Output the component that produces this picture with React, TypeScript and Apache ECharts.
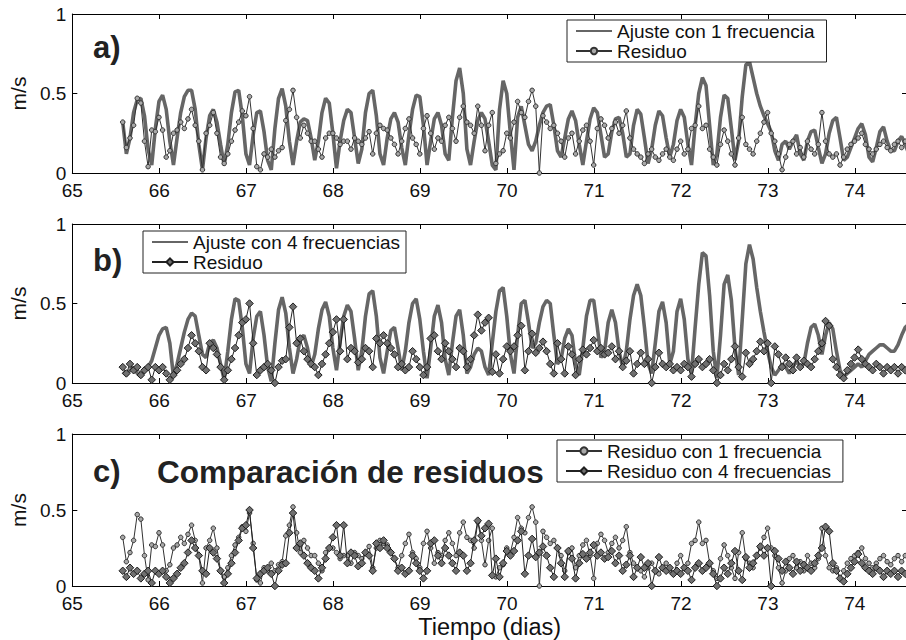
import React, { useEffect, useRef } from 'react';
import * as echarts from 'echarts';

// Hourly samples starting at day 65.58
const T_START = 65.58;
const T_STEP = 1 / 24;
const X_MIN = 65;
const X_MAX = 74.6;

// a) Ajuste con 1 frecuencia
const fit1 = [
  0.32, 0.12, 0.22, 0.38, 0.46, 0.47, 0.36, 0.15, 0.05, 0.28, 0.45, 0.49, 0.40, 0.20, 0.05, 0.22, 0.38, 0.48, 0.52, 0.52, 0.40, 0.18, 0.02, 0.22,
  0.36, 0.40, 0.32, 0.18, 0.05, 0.18, 0.38, 0.51, 0.52, 0.36, 0.12, 0.05, 0.24, 0.38, 0.39, 0.26, 0.08, 0.02, 0.28, 0.47, 0.53, 0.42, 0.20, 0.05,
  0.20, 0.32, 0.34, 0.33, 0.22, 0.08, 0.20, 0.38, 0.47, 0.44, 0.25, 0.03, 0.20, 0.33, 0.40, 0.38, 0.22, 0.06, 0.15, 0.38, 0.50, 0.52, 0.36, 0.12,
  0.05, 0.22, 0.34, 0.38, 0.32, 0.16, 0.05, 0.24, 0.40, 0.49, 0.48, 0.30, 0.05, 0.20, 0.34, 0.38, 0.30, 0.12, 0.08, 0.35, 0.58, 0.66, 0.50, 0.15,
  0.05, 0.20, 0.33, 0.38, 0.34, 0.20, 0.05, 0.02, 0.40, 0.58, 0.50, 0.25, 0.02, 0.35, 0.42, 0.30, 0.18, 0.14, 0.20, 0.30, 0.38, 0.42, 0.43, 0.30,
  0.14, 0.10, 0.22, 0.34, 0.39, 0.33, 0.18, 0.05, 0.20, 0.34, 0.41, 0.38, 0.24, 0.10, 0.12, 0.26, 0.34, 0.35, 0.25, 0.10, 0.12, 0.30, 0.40, 0.37,
  0.22, 0.06, 0.15, 0.30, 0.39, 0.36, 0.22, 0.10, 0.18, 0.33, 0.40, 0.35, 0.18, 0.05, 0.30, 0.50, 0.60, 0.55, 0.30, 0.05, 0.12, 0.35, 0.49, 0.47,
  0.28, 0.08, 0.20, 0.48, 0.68, 0.70, 0.60, 0.50, 0.42, 0.36, 0.31, 0.26, 0.14, 0.08, 0.18, 0.20, 0.15, 0.20, 0.24, 0.12, 0.08, 0.20, 0.26, 0.27,
  0.16, 0.06, 0.12, 0.25, 0.33, 0.35, 0.22, 0.08, 0.10, 0.16, 0.22, 0.28, 0.31, 0.24, 0.10, 0.07, 0.16, 0.26, 0.29, 0.20, 0.14, 0.14, 0.20, 0.23, 0.18, 0.12,
];

// b) Ajuste con 4 frecuencias
const fit4 = [
  0.07, 0.05, 0.08, 0.10, 0.06, 0.04, 0.08, 0.10, 0.14, 0.22, 0.30, 0.34, 0.35, 0.25, 0.04, 0.12, 0.22, 0.32, 0.40, 0.44, 0.42, 0.30, 0.18, 0.16,
  0.25, 0.27, 0.22, 0.12, 0.02, 0.20, 0.40, 0.53, 0.52, 0.35, 0.12, 0.06, 0.28, 0.42, 0.45, 0.30, 0.10, 0.01, 0.25, 0.46, 0.54, 0.44, 0.22, 0.06,
  0.15, 0.28, 0.30, 0.22, 0.10, 0.18, 0.34, 0.46, 0.51, 0.42, 0.22, 0.08, 0.26, 0.42, 0.49, 0.45, 0.28, 0.08, 0.20, 0.42, 0.56, 0.58, 0.42, 0.16,
  0.06, 0.20, 0.33, 0.35, 0.22, 0.08, 0.20, 0.38, 0.50, 0.53, 0.40, 0.20, 0.03, 0.22, 0.42, 0.49, 0.38, 0.15, 0.05, 0.25, 0.42, 0.46, 0.30, 0.06,
  0.10, 0.18, 0.22, 0.20, 0.10, 0.05, 0.25, 0.45, 0.58, 0.60, 0.42, 0.18, 0.06, 0.30, 0.50, 0.52, 0.38, 0.22, 0.25, 0.38, 0.48, 0.52, 0.50, 0.30,
  0.12, 0.15, 0.28, 0.34, 0.30, 0.12, 0.05, 0.22, 0.42, 0.52, 0.52, 0.35, 0.16, 0.20, 0.38, 0.46, 0.38, 0.20, 0.10, 0.20, 0.40, 0.55, 0.62, 0.55,
  0.35, 0.12, 0.06, 0.25, 0.45, 0.51, 0.38, 0.12, 0.20, 0.45, 0.53, 0.40, 0.15, 0.06, 0.35, 0.62, 0.82, 0.80, 0.55, 0.20, 0.03, 0.30, 0.62, 0.68,
  0.52, 0.22, 0.05, 0.40, 0.75, 0.87, 0.78, 0.60, 0.45, 0.32, 0.20, 0.10, 0.05, 0.08, 0.12, 0.10, 0.06, 0.10, 0.14, 0.10, 0.12, 0.25, 0.35, 0.37,
  0.30, 0.18, 0.30, 0.38, 0.34, 0.20, 0.08, 0.04, 0.06, 0.08, 0.10, 0.12, 0.10, 0.14, 0.18, 0.20, 0.22, 0.24, 0.24, 0.22, 0.20, 0.20, 0.24, 0.30, 0.35, 0.37,
];

// Residuo con 1 frecuencia
const res1 = [
  0.32, 0.16, 0.22, 0.30, 0.47, 0.44, 0.20, 0.04, 0.27, 0.26, 0.35, 0.27, 0.10, 0.14, 0.25, 0.27, 0.32, 0.28, 0.34, 0.40, 0.30, 0.20, 0.02, 0.25,
  0.30, 0.38, 0.25, 0.10, 0.06, 0.12, 0.20, 0.27, 0.32, 0.39, 0.36, 0.48, 0.28, 0.04, 0.02, 0.12, 0.10, 0.15, 0.10, 0.14, 0.16, 0.33, 0.40, 0.52,
  0.35, 0.22, 0.30, 0.25, 0.20, 0.20, 0.15, 0.10, 0.22, 0.25, 0.25, 0.22, 0.18, 0.20, 0.20, 0.15, 0.22, 0.20, 0.18, 0.22, 0.26, 0.12, 0.25, 0.30,
  0.28, 0.27, 0.22, 0.18, 0.12, 0.20, 0.28, 0.34, 0.22, 0.18, 0.12, 0.28, 0.36, 0.25, 0.15, 0.22, 0.20, 0.30, 0.35, 0.28, 0.20, 0.35, 0.42, 0.32,
  0.30, 0.25, 0.42, 0.30, 0.14, 0.30, 0.38, 0.06, 0.12, 0.14, 0.25, 0.22, 0.32, 0.45, 0.38, 0.35, 0.45, 0.52, 0.42, 0.00, 0.36, 0.32, 0.28, 0.30,
  0.25, 0.20, 0.10, 0.22, 0.25, 0.12, 0.20, 0.27, 0.30, 0.20, 0.05, 0.28, 0.34, 0.30, 0.22, 0.28, 0.32, 0.25, 0.30, 0.39, 0.22, 0.15, 0.12, 0.10,
  0.06, 0.12, 0.15, 0.10, 0.08, 0.12, 0.15, 0.10, 0.08, 0.15, 0.20, 0.12, 0.15, 0.28, 0.30, 0.42, 0.28, 0.30, 0.15, 0.10, 0.05, 0.18, 0.27, 0.20,
  0.12, 0.05, 0.22, 0.35, 0.18, 0.15, 0.12, 0.20, 0.25, 0.32, 0.38, 0.25, 0.20, 0.12, 0.02, 0.10, 0.18, 0.20, 0.12, 0.16, 0.10, 0.20, 0.15, 0.12,
  0.18, 0.38, 0.20, 0.12, 0.10, 0.12, 0.05, 0.10, 0.15, 0.18, 0.20, 0.22, 0.25, 0.18, 0.15, 0.12, 0.15, 0.18, 0.20, 0.16, 0.14, 0.18, 0.20, 0.16, 0.20, 0.22,
];

// Residuo con 4 frecuencias
const res4 = [
  0.10, 0.06, 0.12, 0.08, 0.10, 0.05, 0.08, 0.10, 0.02, 0.10, 0.08, 0.10, 0.06, 0.02, 0.05, 0.08, 0.12, 0.15, 0.22, 0.30, 0.25, 0.20, 0.10, 0.08,
  0.25, 0.22, 0.18, 0.10, 0.02, 0.08, 0.15, 0.22, 0.30, 0.38, 0.40, 0.50, 0.25, 0.05, 0.08, 0.10, 0.12, 0.08, 0.00, 0.10, 0.14, 0.15, 0.35, 0.48,
  0.25, 0.28, 0.20, 0.15, 0.12, 0.10, 0.05, 0.12, 0.18, 0.25, 0.32, 0.40, 0.20, 0.40, 0.15, 0.22, 0.20, 0.13, 0.15, 0.22, 0.20, 0.10, 0.28, 0.25,
  0.30, 0.25, 0.22, 0.18, 0.10, 0.12, 0.08, 0.10, 0.20, 0.15, 0.10, 0.05, 0.10, 0.28, 0.30, 0.20, 0.15, 0.25, 0.20, 0.15, 0.10, 0.22, 0.20, 0.10,
  0.15, 0.30, 0.43, 0.33, 0.38, 0.41, 0.07, 0.18, 0.06, 0.15, 0.23, 0.20, 0.23, 0.30, 0.36, 0.08, 0.20, 0.31, 0.19, 0.22, 0.26, 0.20, 0.12, 0.06,
  0.25, 0.15, 0.06, 0.23, 0.18, 0.05, 0.15, 0.21, 0.18, 0.22, 0.27, 0.20, 0.22, 0.18, 0.19, 0.23, 0.15, 0.20, 0.10, 0.14, 0.20, 0.06, 0.12, 0.19,
  0.12, 0.15, 0.00, 0.10, 0.19, 0.12, 0.10, 0.12, 0.08, 0.10, 0.08, 0.12, 0.10, 0.04, 0.12, 0.15, 0.10, 0.12, 0.15, 0.08, 0.00, 0.05, 0.12, 0.08,
  0.15, 0.23, 0.10, 0.04, 0.19, 0.12, 0.15, 0.20, 0.26, 0.20, 0.25, 0.00, 0.23, 0.18, 0.10, 0.16, 0.12, 0.08, 0.16, 0.10, 0.14, 0.12, 0.10, 0.15,
  0.20, 0.25, 0.39, 0.36, 0.15, 0.10, 0.05, 0.03, 0.08, 0.12, 0.16, 0.21, 0.15, 0.12, 0.10, 0.08, 0.12, 0.10, 0.06, 0.10, 0.08, 0.10, 0.06, 0.10, 0.08, 0.10,
];

const NAME_FIT1 = 'Ajuste con 1 frecuencia';
const NAME_FIT4 = 'Ajuste con 4 frecuencias';
const NAME_RES_A = 'Residuo';
const NAME_RES_B = 'Residuo ';
const NAME_RES1 = 'Residuo con 1 frecuencia';
const NAME_RES4 = 'Residuo con 4 frecuencias';
const PANEL_LABELS = ['a)', 'b)', 'c)'];
const TITLE_C = 'Comparación de residuos';
const Y_NAME = 'm/s';
const X_NAME = 'Tiempo (dias)';

const FONT = '"Liberation Sans", Arial, Helvetica, sans-serif';
const GRID_TOPS = [14, 224, 434];
const GRID_H = 159;

function toPairs(vals: number[]) {
  return vals.map((v, i) => [T_START + i * T_STEP, v]);
}

function isInt(v: number) {
  return Math.abs(v - Math.round(v)) < 1e-6;
}

export default function App() {
  const ref = useRef<HTMLDivElement>(null);

  useEffect(() => {
    if (!ref.current) return;
    const chart = echarts.init(ref.current, undefined, { renderer: 'svg' });

    const grid = GRID_TOPS.map((t) => ({ left: 68, right: 13, top: t, height: GRID_H, show: false }));

    const xAxis: any[] = [];
    const yAxis: any[] = [];
    GRID_TOPS.forEach((_, g) => {
      const common = {
        type: 'value',
        gridIndex: g,
        min: X_MIN,
        max: X_MAX,
        interval: 1,
        splitLine: { show: false },
        axisLine: { show: true, onZero: false, lineStyle: { color: '#000', width: 1 } },
        axisTick: { show: true, inside: true, length: 5, lineStyle: { color: '#000', width: 1 } },
      };
      xAxis.push({
        ...common,
        position: 'bottom',
        axisLabel: {
          fontSize: 19,
          lineHeight: 14,
          color: '#111',
          fontFamily: FONT,
          margin: 10,
          formatter: (v: number) => (isInt(v) ? String(Math.round(v)) : ''),
        },
        name: g === 2 ? X_NAME : '',
        nameLocation: 'middle',
        nameGap: 29,
        nameTextStyle: { fontSize: 23.5, color: '#111', fontFamily: FONT },
      });
      xAxis.push({ ...common, position: 'top', axisLabel: { show: false } });

      const ycommon = {
        type: 'value',
        gridIndex: g,
        min: 0,
        max: 1,
        interval: 0.5,
        splitLine: { show: false },
        axisLine: { show: true, lineStyle: { color: '#000', width: 1 } },
        axisTick: { show: true, inside: true, length: 5, lineStyle: { color: '#000', width: 1 } },
      };
      yAxis.push({
        ...ycommon,
        position: 'left',
        axisLabel: { fontSize: 19, lineHeight: 14, color: '#111', fontFamily: FONT, margin: 6 },
        name: Y_NAME,
        nameLocation: 'middle',
        nameGap: 42,
        nameTextStyle: { fontSize: 21, color: '#111', fontFamily: FONT },
      });
      yAxis.push({ ...ycommon, position: 'right', axisLabel: { show: false } });
    });

    const fitStyle = (xi: number, yi: number, name: string, data: number[]) => ({
      type: 'line',
      name,
      xAxisIndex: xi,
      yAxisIndex: yi,
      data: toPairs(data),
      showSymbol: false,
      symbol: 'none',
      lineStyle: { color: '#666', width: 3.6 },
      itemStyle: { color: '#666' },
      z: 2,
    });
    const circleRes = (xi: number, yi: number, name: string, data: number[]) => ({
      type: 'line',
      name,
      xAxisIndex: xi,
      yAxisIndex: yi,
      data: toPairs(data),
      symbol: 'circle',
      symbolSize: 4.5,
      showAllSymbol: true,
      lineStyle: { color: '#333', width: 1 },
      itemStyle: { color: '#a8a8a8', borderColor: '#333', borderWidth: 1 },
      z: 3,
    });
    const diamondRes = (xi: number, yi: number, name: string, data: number[]) => ({
      type: 'line',
      name,
      xAxisIndex: xi,
      yAxisIndex: yi,
      data: toPairs(data),
      symbol: 'diamond',
      symbolSize: 7.5,
      showAllSymbol: true,
      lineStyle: { color: '#222', width: 1 },
      itemStyle: { color: '#707070', borderColor: '#1e1e1e', borderWidth: 1 },
      z: 4,
    });

    const series = [
      fitStyle(0, 0, NAME_FIT1, fit1),
      circleRes(0, 0, NAME_RES_A, res1),
      fitStyle(2, 2, NAME_FIT4, fit4),
      diamondRes(2, 2, NAME_RES_B, res4),
      circleRes(4, 4, NAME_RES1, res1),
      diamondRes(4, 4, NAME_RES4, res4),
    ];

    const legendBase = {
      orient: 'vertical',
      selectedMode: false,
      backgroundColor: '#fff',
      borderColor: '#222',
      borderWidth: 1,
      borderRadius: 0,
      padding: [1, 12, 1, 8],
      itemGap: 0,
      itemWidth: 36,
      itemHeight: 8,
      textStyle: { fontSize: 19, color: '#111', fontFamily: FONT, lineHeight: 20 },
      formatter: (name: string) => name.trim(),
    };
    const hiddenSymbol = { opacity: 0 };

    const legend = [
      {
        ...legendBase,
        left: 567,
        top: 20,
        data: [{ name: NAME_FIT1, itemStyle: hiddenSymbol }, NAME_RES_A],
      },
      {
        ...legendBase,
        left: 143,
        top: 231,
        itemHeight: 9,
        padding: [1, 6, 1, 8],
        data: [{ name: NAME_FIT4, itemStyle: hiddenSymbol }, NAME_RES_B],
      },
      { ...legendBase, left: 557, top: 440, itemHeight: 9, data: [NAME_RES1, NAME_RES4] },
    ];

    const labelCenters = [49, 262, 473];
    const graphic: any[] = PANEL_LABELS.map((txt, i) => ({
      type: 'text',
      left: 93,
      top: labelCenters[i] - 17,
      style: { text: txt, fontSize: 31, fontWeight: 'bold', fontFamily: FONT, fill: '#222' },
      z: 10,
    }));
    graphic.push({
      type: 'text',
      left: 157,
      top: labelCenters[2] - 17,
      style: { text: TITLE_C, fontSize: 31.5, fontWeight: 'bold', fontFamily: FONT, fill: '#222' },
      z: 10,
    });

    chart.setOption({
      animation: false,
      backgroundColor: '#fff',
      grid,
      xAxis,
      yAxis,
      legend,
      series,
      graphic,
    });

    return () => chart.dispose();
  }, []);

  return (
    <div
      style={{
        position: 'fixed',
        left: 0,
        top: 0,
        width: 906,
        height: 640,
        overflow: 'hidden',
        background: '#fff',
      }}
    >
      <div ref={ref} style={{ width: 920, height: 640 }} />
    </div>
  );
}
